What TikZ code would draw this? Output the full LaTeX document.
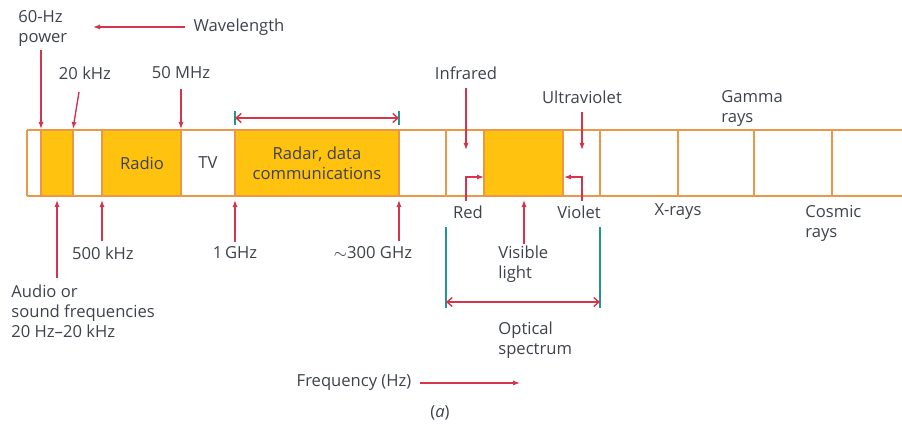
\documentclass[tikz,border=0pt]{standalone}
\usepackage{fontspec}
\setmainfont{Open Sans}
\usetikzlibrary{arrows.meta,positioning,calc}
\definecolor{bandfill}{RGB}{255,194,14}
\definecolor{bandline}{RGB}{236,150,72}
\definecolor{arrred}{RGB}{212,52,76}
\definecolor{tickteal}{RGB}{32,150,140}
\definecolor{txtgray}{RGB}{62,66,76}
\tikzset{
  lbl/.style={font=\fontsize{8.3}{10}\selectfont, text=txtgray, inner sep=0pt, align=left},
  ptr/.style={arrred, line width=0.7pt, -{Latex[length=3.5pt,width=2.6pt]}},
  span/.style={arrred, line width=0.7pt, {Straight Barb[length=2.6pt,width=4.5pt]}-{Straight Barb[length=2.6pt,width=4.5pt]}},
  tickline/.style={tickteal, line width=0.7pt},
}
\begin{document}
\begin{tikzpicture}[x=0.5pt,y=-0.5pt]
  \useasboundingbox (0,0) rectangle (902,427);

  % band corners of every cell
  \foreach \x/\n in {27/a,41/b,73/c,102/d,181/e,235/f,399/g,446/h,484/i,563/j,600/k,678/l,754/m,832/n}{
    \coordinate (top\n) at (\x,130);
    \coordinate (bot\n) at (\x,196);
  }
  \coordinate (topz) at (902,130);
  \coordinate (botz) at (902,196);

  % filled cells
  \fill[bandfill] (topb) rectangle (botc);
  \fill[bandfill] (topd) rectangle (bote);
  \fill[bandfill] (topf) rectangle (botg);
  \fill[bandfill] (topi) rectangle (botj);

  % cell borders
  \draw[bandline, line width=0.9pt] (topa) -- (topz) (bota) -- (botz);
  \foreach \n in {a,b,c,d,e,f,g,h,i,j,k,l,m,n}
    \draw[bandline, line width=0.9pt] (top\n) -- (bot\n);

  % texts in the band
  \node[lbl] (radio) at (142,163) {Radio};
  \node[lbl] (tv) at (208,163) {TV};
  \node[lbl, align=center] (radar) at (317,163) {Radar, data\\communications};

  % labels above
  \node[lbl, anchor=north west] (hz60) at (18,10) {60-Hz\\power};
  \node[lbl] (wave) at (239,27) {Wavelength};
  \node[lbl] (khz20) at (85,73) {20 kHz};
  \node[lbl] (mhz50) at (181,73) {50 MHz};
  \node[lbl] (infra) at (466,73) {Infrared};
  \node[lbl] (ultra) at (582,97) {Ultraviolet};
  \node[lbl, anchor=north west] (gamma) at (721,90) {Gamma\\rays};

  % labels below
  \node[lbl] (red) at (468,212) {Red};
  \node[lbl] (violet) at (579,212) {Violet};
  \node[lbl] (xrays) at (678,212) {X-rays};
  \node[lbl, anchor=north west] (cosmic) at (805,205) {Cosmic\\rays};
  \node[lbl] (khz500) at (103,253) {500 kHz};
  \node[lbl] (ghz1) at (235,253) {1\,GHz};
  \node[lbl] (ghz300) at (373,253) {$\sim$300 GHz};
  \node[lbl, anchor=north west] (visible) at (498,245) {Visible\\light};
  \node[lbl, anchor=north west] (audio) at (11,284) {Audio or\\sound frequencies\\20 Hz--20 kHz};
  \node[lbl, anchor=north west] (optical) at (498,321) {Optical\\spectrum};
  \node[lbl] (freq) at (354,383) {Frequency (Hz)};
  \node[lbl] (fig) at (440,413) {(\textit{a})};

  % free ends of the pointers
  \coordinate (wavetip) at (93,27);
  \coordinate (k20foot) at (79,92);
  \coordinate (irtip) at (466,150);
  \coordinate (uvtip) at (582,150);
  \coordinate (redfoot) at (466,201);
  \coordinate (redtip) at (484,177);
  \coordinate (vfoot) at (582,201);
  \coordinate (vtip) at (564,177);
  \coordinate (freqtip) at (520,383);

  % pointers from above
  \draw[ptr] (hz60.south -| topb) ++(0,3) -- ([yshift=0.5pt]topb);
  \draw[ptr] ([xshift=-4pt]wave.west) -- (wavetip);
  \draw[ptr] (k20foot) -- ([yshift=0.5pt]topc);
  \draw[ptr] ([yshift=-5pt]mhz50.south) -- ([yshift=0.5pt]tope);
  \draw[ptr] ([yshift=-4pt]infra.south) -- (irtip);
  \draw[ptr] ([yshift=-4pt]ultra.south) -- (uvtip);

  % pointers from below
  \draw[ptr] (57,278) -- (57,200);
  \draw[ptr] (khz500.north -| botd) ++(0,-5) -- ([yshift=-2pt]botd);
  \draw[ptr] (ghz1.north -| botf) ++(0,-5) -- ([yshift=-2pt]botf);
  \draw[ptr] (ghz300.north -| botg) ++(0,-5) -- ([yshift=-2pt]botg);
  \draw[ptr] (visible.north -| 524,0) ++(0,-1) -- (524,200);
  \draw[ptr] (redfoot) |- (redtip);
  \draw[ptr] (vfoot) |- (vtip);

  % spans
  \draw[tickline] (235,111) -- (235,125) (399,111) -- (399,125);
  \draw[span] (235,118) -- (399,118);
  \draw[tickline] (446,227) -- (446,308) (600,227) -- (600,308);
  \draw[span] (446,302) -- (600,302);

  % frequency direction
  \draw[ptr] ([xshift=4pt]freq.east) -- (freqtip);
\end{tikzpicture}
\end{document}
